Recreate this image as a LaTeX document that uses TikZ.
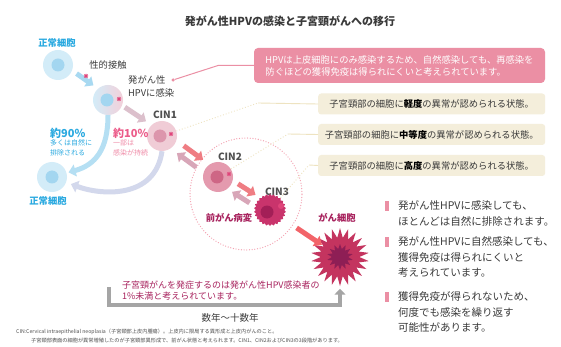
\documentclass[tikz,border=0pt]{standalone}
\usepackage{fontspec}
\setmainfont{Noto Sans CJK JP}
\usepackage{tikz}
\usetikzlibrary{arrows.meta,positioning,shapes.geometric}

\definecolor{ink}{HTML}{3A3A3A}
\definecolor{stagegray}{HTML}{505050}
\definecolor{skytext}{HTML}{29A9E0}
\definecolor{cellblue}{HTML}{D3ECF8}
\definecolor{coreblue}{HTML}{A3D6F0}
\definecolor{cellpink}{HTML}{F2D0DA}
\definecolor{germred}{HTML}{E0457A}
\definecolor{skyarrow}{HTML}{A8D9F1}
\definecolor{lilac}{HTML}{DCC0CC}
\definecolor{swoopgray}{HTML}{D3D8EC}
\definecolor{cinApale}{HTML}{F0CCD6}
\definecolor{cinAcore}{HTML}{DC96AC}
\definecolor{cinBpale}{HTML}{E49AAE}
\definecolor{cinBcore}{HTML}{CE6685}
\definecolor{cinCred}{HTML}{C9346C}
\definecolor{cinCdark}{HTML}{A31F57}
\definecolor{salmon}{HTML}{EF7D83}
\definecolor{mauve}{HTML}{D8A6B8}
\definecolor{dotpink}{HTML}{F4A0B0}
\definecolor{wine}{HTML}{A8235E}
\definecolor{cancerred}{HTML}{C4345F}
\definecolor{cancerdark}{HTML}{8E1E55}
\definecolor{hpvpink}{HTML}{EB8FA4}
\definecolor{boxbeige}{HTML}{F4EEDB}
\definecolor{leaderbeige}{HTML}{EEE3C0}
\definecolor{bracketgray}{HTML}{A5A5A5}
\definecolor{pinktext}{HTML}{EC5C8A}
\definecolor{pinknote}{HTML}{F08CA8}

\begin{document}
\begin{tikzpicture}[x=1pt,y=-1pt,
  every node/.style={inner sep=0pt,text=ink,font=\fontsize{9.3}{11}\selectfont},
  cell/.style={circle,minimum size=30pt},
  core/.style={circle,minimum size=13pt},
  germ/.style={star,star points=8,star point ratio=1.8,minimum size=5pt,fill=germred},
  stage/.style={font=\fontsize{10}{12}\selectfont\bfseries,text=stagegray},
  fwd/.style={line width=5pt,-{Triangle[length=7pt,width=12pt]},draw=salmon},
  back/.style={fwd,draw=mauve},
  swoop/.style={line width=5pt,-{Triangle[length=7pt,width=12pt]}},
  infobox/.style={fill=boxbeige,rounded corners=3pt,minimum width=227pt,
    minimum height=21pt,anchor=west},
  leader/.style={draw=leaderbeige,line width=0.9pt},
  pinkbar/.style={fill=hpvpink,minimum width=4pt,minimum height=10pt,anchor=north west},
  bullet/.style={anchor=north west,align=left,font=\fontsize{10.5}{15.5}\selectfont}]

  \useasboundingbox (0,0) rectangle (561,347);
  \fill[white] (0,0) rectangle (561,347);

  % title
  \node[font=\fontsize{11}{13}\selectfont\bfseries] (title) at (290,21)
    {発がん性HPVの感染と子宮頸がんへの移行};

  % precancer zone
  \node[circle,minimum size=112pt,draw=dotpink,line width=1.3pt,
    dash pattern=on 0pt off 2.7pt,line cap=round] (zone) at (246,194) {};

  % explanation boxes
  \node[fill=hpvpink,rounded corners=4pt,minimum width=291pt,minimum height=35pt,
    text=white,align=left,font=\fontsize{9.3}{12}\selectfont] (hpvbox) at (399.5,65.5)
    {HPVは上皮細胞にのみ感染するため、自然感染しても、再感染を\\
     防ぐほどの獲得免疫は得られにくいと考えられています。};
  \foreach \n/\y/\lvl in {1/104/軽度, 2/134.5/中等度, 3/165.5/高度}
    \node[infobox] (b\n) at (318,\y)
      {子宮頸部の細胞に{\bfseries\color{black}\lvl}の異常が認められる状態。};

  % leaders to the boxes
  \coordinate (k1) at (258,103);
  \coordinate (k2) at (288,134);
  \coordinate (k3) at (309,165);

  % normal cell and infection
  \node[text=skytext,font=\fontsize{9.3}{11}\selectfont\bfseries] (toplbl) at (57,43) {正常細胞};
  \node[cell,fill=cellblue] (n1) at (58,65) {};
  \node[core,fill=coreblue] (n1core) at (n1) {};
  \node (contact) at (108,65) {性的接触};

  \node[cell,left color=cellblue,right color=cellpink] (inf) at (108,100) {};
  \node[core,fill=coreblue] (infcore) at (107,100) {};
  \node[germ] (infgerm) at (119,99) {};
  \node[anchor=west,align=left,font=\fontsize{9.3}{13}\selectfont] (hpvlbl) at (128,86.5)
    {発がん性\\HPVに感染};
  \node[circle,fill=hpvpink,minimum size=3.5pt] (pin) at (173,80) {};
  \coordinate (bend) at (218,65.5);
  \draw[draw=hpvpink,line width=1pt] (pin) -- (bend) -- (hpvbox.west);

  \draw[fwd,draw=skyarrow,transform canvas={xshift=2pt,yshift=3pt},
    shorten <=5pt,shorten >=5pt] (n1) -- (inf);
  \node[germ] (contactgerm) at (86,76) {};

  % CIN1
  \node[stage] (cinAlbl) at (165,115) {CIN1};
  \node[cell,fill=cinApale] (c1) at (162,136) {};
  \node[core,fill=cinAcore] (c1core) at (160,136) {};
  \node[germ] (c1germ) at (171,134) {};
  \draw[fwd,draw=lilac,transform canvas={yshift=4pt},shorten <=5pt,shorten >=4pt] (inf) -- (c1);

  % ratios
  \node[anchor=west,text=skytext,font=\fontsize{11}{13}\selectfont\bfseries] (p90) at (50,133) {約90\%};
  \node[below=1pt of p90.south west,anchor=north west,align=left,text=skytext,
    font=\fontsize{7}{10}\selectfont] (p90note) {多くは自然に\\排除される};
  \node[anchor=west,text=pinktext,font=\fontsize{11}{13}\selectfont\bfseries] (p10) at (113,133) {約10\%};
  \node[below=1pt of p10.south west,anchor=north west,align=left,text=pinknote,
    font=\fontsize{7}{10}\selectfont] (p10note) {一部は\\感染が持続};

  % back to normal
  \node[cell,fill=cellblue] (n3) at (52,177) {};
  \node[core,fill=coreblue] (n3core) at (n3) {};
  \node[text=skytext,font=\fontsize{9.3}{11}\selectfont\bfseries] (botlbl) at (48,201) {正常細胞};
  \draw[swoop,draw=skyarrow!85,shorten >=2pt] (inf.south) .. controls (108,150) and (95,165) .. (n3);
  \draw[swoop,draw=swoopgray,shorten >=5pt] (c1.south) .. controls (155,200) and (100,195) .. (n3);

  % CIN2
  \node[stage] (cinBlbl) at (230,157) {CIN2};
  \node[cell,fill=cinBpale] (c2) at (218,177) {};
  \node[core,fill=cinBcore] (c2core) at (217,177) {};
  \node[germ] (c2germ) at (229,174) {};
  \draw[fwd,transform canvas={xshift=3pt,yshift=4pt},shorten <=8pt,shorten >=7pt] (c1) -- (c2);
  \draw[back,transform canvas={xshift=-3pt,yshift=-4pt},shorten <=8pt,shorten >=7pt] (c2) -- (c1);

  % CIN3
  \node[stage] (cinClbl) at (277,192) {CIN3};
  \node[star,star points=26,star point ratio=1.12,minimum size=32pt,fill=cinCred] (c3) at (270,210) {};
  \node[core,fill=cinCdark] (c3core) at (267,212) {};
  \node[circle,fill=germred,minimum size=6pt] (c3germ) at (281,206) {};
  \node[font=\fontsize{9.3}{11}\selectfont\bfseries,text=wine] (prelbl) at (229,218) {前がん病変};
  \draw[fwd,transform canvas={xshift=3pt,yshift=4pt},shorten <=5pt,shorten >=5pt] (c2) -- (c3);
  \draw[back,transform canvas={xshift=-3pt,yshift=-4pt},shorten <=5pt,shorten >=5pt] (c3) -- (c2);

  \draw[leader,dotted] (c1) -- (k1);
  \draw[leader] (k1) -- (b1.west);
  \draw[leader,dotted] (c2) -- (k2);
  \draw[leader] (k2) -- (b2.west);
  \draw[leader,dotted] (c3) -- (k3);
  \draw[leader] (k3) -- (b3.west);

  % cancer
  \node[font=\fontsize{9.3}{11}\selectfont\bfseries,text=wine] (calbl) at (337,218) {がん細胞};
  \node[star,star points=22,star point ratio=1.5,minimum size=58pt,fill=cancerred] (ca) at (340,257) {};
  \node[star,star points=14,star point ratio=1.6,minimum size=26pt,fill=cancerdark] (cacore) at (340,257) {};
  \draw[fwd,draw=salmon!80!red,shorten <=16pt,shorten >=1pt] (c3) -- (ca);

  % years bracket
  \node[anchor=north west,align=left,text=wine,font=\fontsize{9}{11.5}\selectfont] (risk) at (122,280.5)
    {子宮頸がんを発症するのは発がん性HPV感染者の\\1\%未満と考えられています。};
  \coordinate (brk) at (109,287);
  \coordinate (brkend) at (340,305);
  \draw[line width=4pt,draw=bracketgray,-{Triangle[length=6pt,width=11pt]},shorten >=2pt]
    (brk) |- (brkend) -- (ca.south);
  \node[font=\fontsize{9.5}{11}\selectfont] (span) at (230,318) {数年～十数年};

  % notes
  \node[anchor=west,text=stagegray,font=\fontsize{5.2}{6}\selectfont] (fn1) at (16,332)
    {CIN:Cervical intraepithelial neoplasia（子宮頸部上皮内腫瘍）。上皮内に限局する異形成と上皮内がんのこと。};
  \node[anchor=west,text=stagegray,font=\fontsize{5.2}{6}\selectfont] (fn2) at (31,341)
    {子宮頸部表面の細胞が異常増殖したのが子宮頸部異形成で、前がん状態と考えられます。CIN1、CIN2およびCIN3の3段階があります。};

  % key points
  \node[pinkbar] (bar1) at (385,201) {};
  \node[bullet] (pt1) at (398,200.7) {発がん性HPVに感染しても、\\ほとんどは自然に排除されます。};
  \node[pinkbar] (bar2) at (385,237) {};
  \node[bullet] (pt2) at (398,236.7) {発がん性HPVに自然感染しても、\\獲得免疫は得られにくいと\\考えられています。};
  \node[pinkbar] (bar3) at (385,292) {};
  \node[bullet] (pt3) at (398,291.7) {獲得免疫が得られないため、\\何度でも感染を繰り返す\\可能性があります。};
\end{tikzpicture}
\end{document}
